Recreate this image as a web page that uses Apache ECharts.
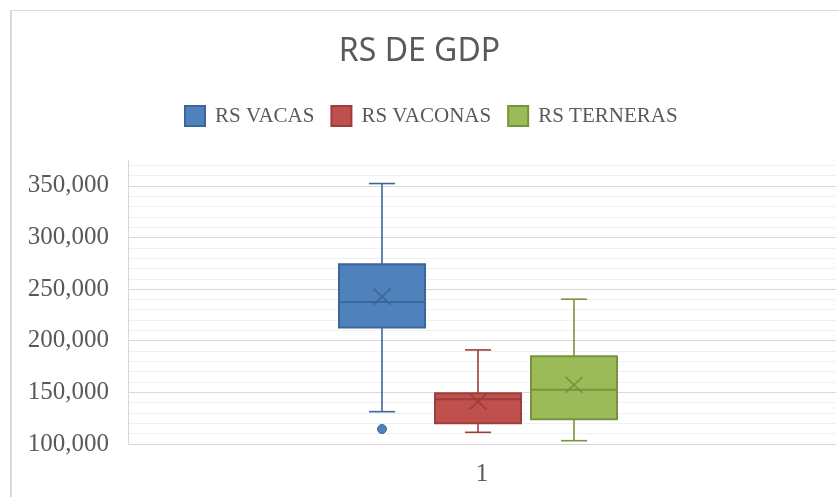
<!DOCTYPE html>
<html>
<head>
<meta charset="utf-8">
<title>RS DE GDP</title>
<script src="https://cdn.jsdelivr.net/npm/echarts@6/dist/echarts.min.js"></script>
<style>
html, body { margin: 0; padding: 0; background: #fff; }
.frame { position: absolute; left: 10px; top: 10px; width: 900px; height: 560px; border-left: 2px solid #d9d9d9; border-top: 1px solid #d9d9d9; }
#chart { position: absolute; left: 0; top: 0; width: 839px; height: 497px; }
</style>
</head>
<body>
<div class="frame"></div>
<div id="chart"></div>
<script>
// datos
var categories = ['1'];
var seriesNames = ['RS VACAS', 'RS VACONAS', 'RS TERNERAS'];
// [min, Q1, mediana, Q3, max]
var vacasBox = [131300, 212700, 237600, 274100, 352200];
var vaconasBox = [111300, 120000, 143300, 149100, 191100];
var ternerasBox = [103200, 123900, 152600, 185000, 240200];
var means = [242700, 141000, 157200];
var vacasOutliers = [114500];
var vaconasOutliers = [];
var ternerasOutliers = [];
var yMin = 100000;
var yMax = 375000;
var yMajorStep = 50000;
var yMinorStep = 10000;

var boxes = [vacasBox, vaconasBox, ternerasBox];
var outliers = [vacasOutliers, vaconasOutliers, ternerasOutliers];
var fills = ['#4f81bd', '#c0504d', '#9bbb59'];
var strokes = ['#3c6699', '#9c3e3b', '#78933f'];

var boxWidth = 86;
var capWidth = 26;
var boxStep = 96;
var boxShift = -4;

function makeRender(idx) {
  return function (params, api) {
    var off = boxShift + (idx - 1) * boxStep;
    var x = api.coord([api.value(0), yMin])[0] + off;
    var pMin = api.coord([api.value(0), api.value(1)])[1];
    var pQ1 = api.coord([api.value(0), api.value(2)])[1];
    var pMed = api.coord([api.value(0), api.value(3)])[1];
    var pQ3 = api.coord([api.value(0), api.value(4)])[1];
    var pMax = api.coord([api.value(0), api.value(5)])[1];
    var pMean = api.coord([api.value(0), api.value(6)])[1];
    var line = { stroke: strokes[idx], lineWidth: 1.6 };
    var children = [
      { type: 'line', shape: { x1: x, y1: pMax, x2: x, y2: pQ3 }, style: line },
      { type: 'line', shape: { x1: x, y1: pQ1, x2: x, y2: pMin }, style: line },
      { type: 'line', shape: { x1: x - capWidth / 2, y1: pMax, x2: x + capWidth / 2, y2: pMax }, style: line },
      { type: 'line', shape: { x1: x - capWidth / 2, y1: pMin, x2: x + capWidth / 2, y2: pMin }, style: line },
      { type: 'rect', shape: { x: x - boxWidth / 2, y: pQ3, width: boxWidth, height: pQ1 - pQ3 },
        style: { fill: fills[idx], stroke: strokes[idx], lineWidth: 2 } },
      { type: 'line', shape: { x1: x - boxWidth / 2, y1: pMed, x2: x + boxWidth / 2, y2: pMed },
        style: { stroke: strokes[idx], lineWidth: 2 } },
      { type: 'line', shape: { x1: x - 8.5, y1: pMean - 8, x2: x + 8.5, y2: pMean + 8 }, style: line },
      { type: 'line', shape: { x1: x - 8.5, y1: pMean + 8, x2: x + 8.5, y2: pMean - 8 }, style: line }
    ];
    outliers[idx].forEach(function (v) {
      var p = api.coord([api.value(0), v])[1];
      children.push({ type: 'circle', shape: { cx: x, cy: p, r: 4.5 },
        style: { fill: fills[idx], stroke: strokes[idx], lineWidth: 1 } });
    });
    return { type: 'group', children: children };
  };
}

var series = [];
for (var i = 0; i < boxes.length; i++) {
  series.push({
    name: seriesNames[i],
    type: 'custom',
    xAxisIndex: 0,
    yAxisIndex: 1,
    renderItem: makeRender(i),
    itemStyle: { color: fills[i], borderColor: strokes[i], borderWidth: 1.5 },
    encode: { x: 0, y: [1, 2, 3, 4, 5, 6] },
    data: [[0].concat(boxes[i]).concat([means[i]])]
  });
}

var chart = echarts.init(document.getElementById('chart'));
chart.setOption({
  animation: false,
  title: {
    text: 'RS DE GDP',
    left: 'center',
    top: 31,
    textStyle: { fontFamily: 'Noto Sans', fontSize: 32, fontWeight: 'normal', color: '#595959' }
  },
  legend: {
    data: seriesNames,
    left: 179,
    top: 100,
    icon: 'rect',
    itemWidth: 20,
    itemHeight: 20,
    itemGap: 16,
    textStyle: { fontFamily: 'Liberation Serif', fontSize: 21, color: '#595959', padding: [0, 0, 0, 5] }
  },
  grid: {
    left: 128,
    right: 3,
    top: 160,
    bottom: 53,
    outerBoundsMode: 'none'
  },
  xAxis: {
    type: 'category',
    data: categories,
    axisLine: { show: false },
    axisTick: { show: false },
    axisLabel: { margin: 18, fontFamily: 'Liberation Serif', fontSize: 25, color: '#595959' }
  },
  yAxis: [
    {
      // lineas secundarias
      type: 'value',
      position: 'left',
      min: yMin,
      max: yMax,
      interval: yMinorStep,
      axisLabel: { show: false },
      axisLine: { show: false },
      axisTick: { show: false },
      splitLine: { showMinLine: false, showMaxLine: false, lineStyle: { color: '#f0f0f0', width: 1 } }
    },
    {
      type: 'value',
      position: 'left',
      min: yMin,
      max: yMax,
      interval: yMajorStep,
      axisLine: { show: true, lineStyle: { color: '#d9d9d9', width: 1 } },
      axisTick: { show: false },
      axisLabel: {
        margin: 19,
        showMaxLabel: false,
        fontFamily: 'Liberation Serif',
        fontSize: 25,
        color: '#595959',
        formatter: function (v) { return v.toLocaleString('en-US'); }
      },
      splitLine: { showMaxLine: false, lineStyle: { color: '#d9d9d9', width: 1 } }
    }
  ],
  series: series
});
</script>
</body>
</html>
